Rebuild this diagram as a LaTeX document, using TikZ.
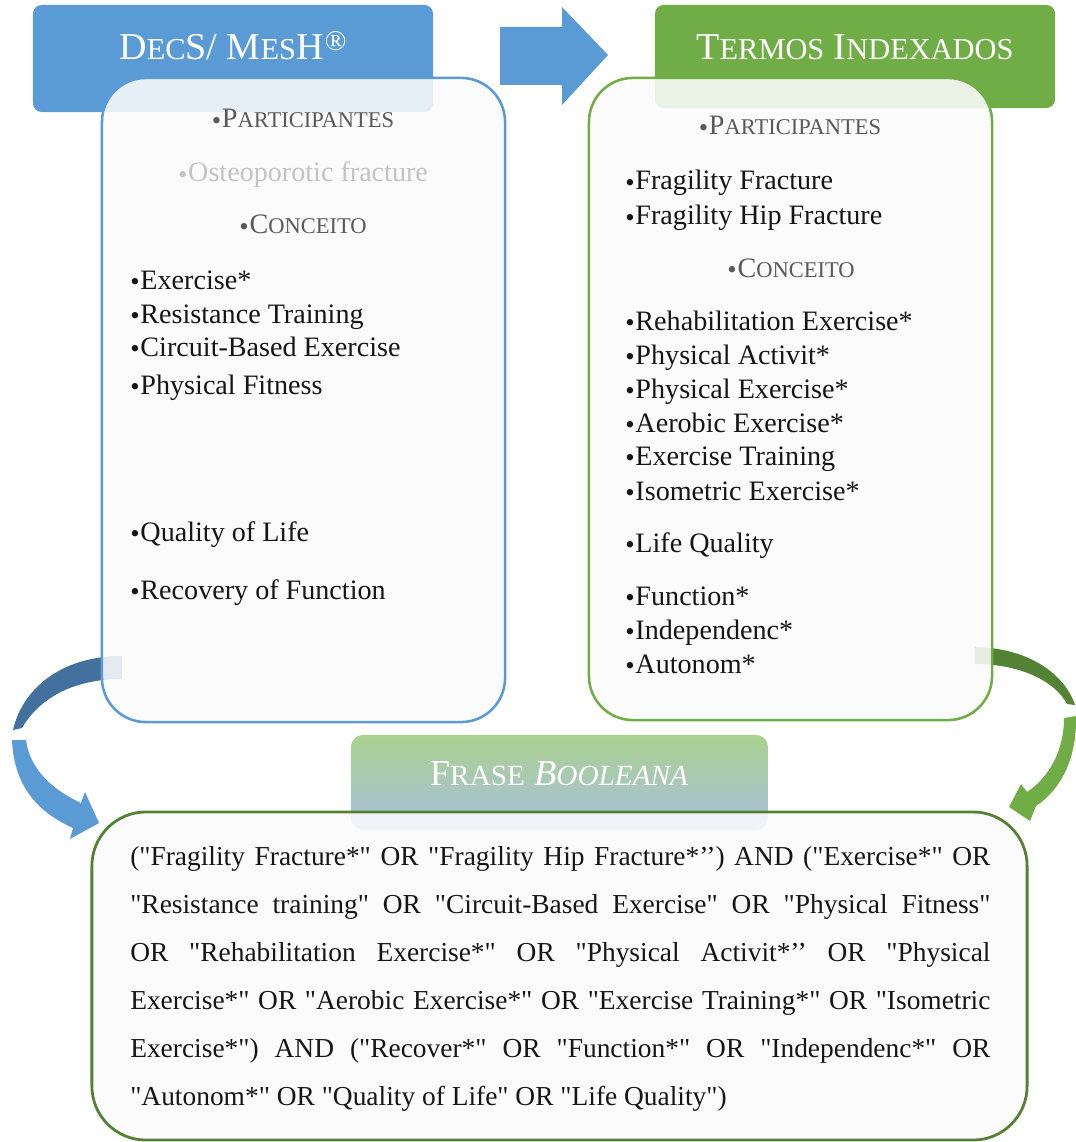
\documentclass[tikz,border=0pt]{standalone}
\usepackage{fontspec}
\setmainfont{Liberation Serif}[Ligatures=TeXOff]
\usepackage{tikz}

\definecolor{decsblue}{HTML}{5B9BD5}
\definecolor{decsdark}{HTML}{41719C}
\definecolor{termgreen}{HTML}{70AD47}
\definecolor{termdark}{HTML}{548235}
\definecolor{boolgreen}{HTML}{A9D18E}
\definecolor{boolblue}{HTML}{A9BFDF}
\definecolor{boxfill}{HTML}{FBFBFB}
\definecolor{labelgray}{HTML}{595959}
\definecolor{fadegray}{HTML}{C3C3C3}
\definecolor{itemblack}{HTML}{151515}

\newcommand{\lowsc}[1]{\scalebox{0.8}{#1}}
\newcommand{\bul}{{\fontsize{19}{19}\selectfont\raisebox{-1pt}{•}}\kern0.6pt}
\newcommand{\regmark}{\kern1pt\raisebox{0.55ex}{\scalebox{0.75}{®}}}

\begin{document}
\begin{tikzpicture}[x=0.025cm, y=-0.025cm,
    headbox/.style={rounded corners=0.22cm, minimum width=10cm, inner sep=0},
    termbox/.style={draw, line width=1.8pt, rounded corners=1.1cm, fill=boxfill, fill opacity=0.88, minimum width=10.075cm, inner sep=0},
    headtxt/.style={anchor=base, inner sep=0, text=white, font=\fontsize{27}{30}\selectfont},
    grouptxt/.style={anchor=base, inner sep=0, text=labelgray, font=\fontsize{20}{22}\selectfont},
    itemtxt/.style={anchor=base west, inner sep=0, text=itemblack, font=\fontsize{20}{22}\selectfont},
    booltxt/.style={anchor=base west, inner sep=0, text=itemblack, text width=21.5cm, align=justify, font=\fontsize{19.5}{34.25}\selectfont}
]
\useasboundingbox (0,0) rectangle (1076,1142);

\coordinate (ltail) at (122,656);
\coordinate (lhead) at (99,823);
\coordinate (rtail) at (975,647);
\coordinate (rhead) at (1009,807);

\fill[decsdark] (ltail) .. controls (60,656) and (22,690) .. (13,730) -- (22,728) .. controls (40,697) and (75,679) .. (122,679) -- cycle;
\fill[decsblue] (12,740) .. controls (14,790) and (42,814) .. (73,828) -- (70,839) -- (lhead) -- (85,792) -- (81,803) .. controls (55,791) and (30,771) .. (26,740) -- cycle;
\fill[termdark] (rtail) .. controls (1030,648) and (1065,675) .. (1075,705) -- (1067,704) .. controls (1055,681) and (1020,664) .. (975,664) -- cycle;
\fill[termgreen] (1076,716) .. controls (1077,760) and (1060,790) .. (1036,806) -- (1030,821) -- (rhead) -- (1021,784) -- (1027,792) .. controls (1048,778) and (1064,752) .. (1064,718) -- cycle;

\node[headbox, fill=decsblue, minimum height=2.675cm] (decs) at (233,58.5) {};
\node[headbox, fill=termgreen, minimum height=2.575cm] (termos) at (855,56.5) {};

\fill[decsblue] (500,27) -- (562,27) -- (562,7) -- (608,55) -- (562,105) -- (562,85) -- (500,85) -- cycle;

\node[termbox, draw=decsblue, minimum height=16.1cm] (decsbox) at (303.5,400) {};
\node[termbox, draw=termgreen, minimum height=16.05cm] (termbox) at (790.5,399) {};

\node[headbox, rounded corners=0.3cm, minimum width=10.425cm, minimum height=2.375cm, top color=boolgreen, bottom color=boolblue] (frase) at (559.5,782.5) {};
\node[termbox, draw=termdark, line width=2pt, rounded corners=1.35cm, minimum width=23.375cm, minimum height=8.2cm] (boolbox) at (559.5,976) {};

\node[headtxt] (decstitle) at (233,60) {D\lowsc{EC}S/ M\lowsc{ES}H\regmark};
\node[headtxt] (termostitle) at (855,60) {T\lowsc{ERMOS} I\lowsc{NDEXADOS}};
\node[headtxt, font=\fontsize{26}{30}\selectfont] (frasetitle) at (559,785) {F\lowsc{RASE} \textit{B\lowsc{OOLEANA}}};

\node[grouptxt] (lpart) at (303,128) {\bul P\lowsc{ARTICIPANTES}};
\node[grouptxt, text=fadegray] (losteo) at (303,182) {\bul Osteoporotic fracture};
\node[grouptxt] (lconc) at (303,234) {\bul C\lowsc{ONCEITO}};
\node[itemtxt] (l1) at (130,289) {\bul Exercise*};
\node[itemtxt] (l2) at (130,323) {\bul Resistance Training};
\node[itemtxt] (l3) at (130,356) {\bul Circuit-Based Exercise};
\node[itemtxt] (l4) at (130,394) {\bul Physical Fitness};
\node[itemtxt] (l5) at (130,541) {\bul Quality of Life};
\node[itemtxt] (l6) at (130,599) {\bul Recovery of Function};

\node[grouptxt] (rpart) at (790,135) {\bul P\lowsc{ARTICIPANTES}};
\node[itemtxt] (r1) at (625,190) {\bul Fragility Fracture};
\node[itemtxt] (r2) at (625,225) {\bul Fragility Hip Fracture};
\node[grouptxt] (rconc) at (791,277) {\bul C\lowsc{ONCEITO}};
\node[itemtxt] (r3) at (625,330) {\bul Rehabilitation Exercise*};
\node[itemtxt] (r4) at (625,364) {\bul Physical Activit*};
\node[itemtxt] (r5) at (625,398) {\bul Physical Exercise*};
\node[itemtxt] (r6) at (625,432) {\bul Aerobic Exercise*};
\node[itemtxt] (r7) at (625,465) {\bul Exercise Training};
\node[itemtxt] (r8) at (625,500) {\bul Isometric Exercise*};
\node[itemtxt] (r9) at (625,552) {\bul Life Quality};
\node[itemtxt] (r10) at (625,605) {\bul Function*};
\node[itemtxt] (r11) at (625,639) {\bul Independenc*};
\node[itemtxt] (r12) at (625,673) {\bul Autonom*};

\node[booltxt] (booltext) at (130,865) {\hyphenpenalty=10000 ("Fragility Fracture*" OR "Fragility Hip Fracture*’’) AND ("Exercise*" OR\linebreak
"Resistance training" OR "Circuit-Based Exercise" OR "Physical Fitness"\linebreak
OR "Rehabilitation Exercise*" OR "Physical Activit*’’ OR "Physical\linebreak
Exercise*" OR "Aerobic Exercise*" OR "Exercise Training*" OR "Isometric\linebreak
Exercise*") AND ("Recover*" OR "Function*" OR "Independenc*" OR\linebreak
"Autonom*" OR "Quality of Life" OR "Life Quality")};

\end{tikzpicture}
\end{document}
